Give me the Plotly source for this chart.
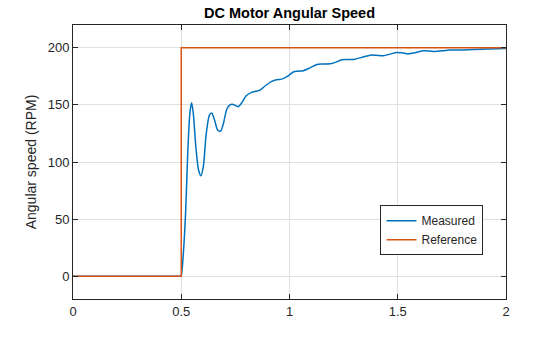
import plotly.graph_objects as go

# Data
ref_t = [0, 0.5, 0.5, 2.0]
ref_y = [0, 0, 200, 200]

meas_t = [0, 0.5, 0.505, 0.52, 0.53, 0.54, 0.548, 0.556, 0.568, 0.58, 0.591, 0.602,
          0.615, 0.63, 0.641, 0.655, 0.668, 0.682, 0.695, 0.71, 0.725, 0.736, 0.75,
          0.764, 0.78, 0.8, 0.825, 0.845, 0.864, 0.89, 0.918, 0.94, 0.964, 0.99,
          1.018, 1.04, 1.064, 1.095, 1.126, 1.155, 1.187, 1.215, 1.241, 1.27,
          1.303, 1.34, 1.372, 1.40, 1.433, 1.465, 1.495, 1.52, 1.549, 1.585,
          1.618, 1.645, 1.672, 1.705, 1.741, 1.80, 1.849, 1.92, 2.0]
meas_y = [0, 0, 8, 55, 108, 143, 152, 142, 112, 93, 88, 96,
          124, 141, 143, 136, 128, 127, 134, 146, 150, 150.5, 149.5,
          148.5, 152, 158, 161, 162, 163, 167, 170.6, 172, 172.6, 175,
          178.8, 179.5, 180, 182.5, 185.4, 185.8, 186, 187.5, 189.5, 189.8,
          190.1, 192, 193.6, 193.5, 193, 194.5, 195.9, 195.6, 194.8, 196,
          197.4, 197.2, 196.8, 197.4, 198, 198.2, 198.5, 199, 199.4]

x_ticks = [0, 0.5, 1, 1.5, 2]
x_tick_labels = ["0", "0.5", "1", "1.5", "2"]
y_ticks = [0, 50, 100, 150, 200]
y_tick_labels = ["0", "50", "100", "150", "200"]

BLUE = "#0072BD"
ORANGE = "#D95319"
AXC = "#262626"
GRID = "#dfdfdf"
FONT = "Liberation Sans, Arial, sans-serif"

# split: flat part (straight) and response (smooth)
k = meas_t.index(0.5)

fig = go.Figure()
fig.add_trace(go.Scatter(x=meas_t[k:], y=meas_y[k:], mode="lines", name="Measured",
                         legendgroup="m", legendrank=1,
                         line=dict(color=BLUE, width=1.5, shape="spline", smoothing=0.7)))
fig.add_trace(go.Scatter(x=meas_t[:k + 1], y=meas_y[:k + 1], mode="lines", name="Measured",
                         legendgroup="m", showlegend=False,
                         line=dict(color=BLUE, width=1.5)))
fig.add_trace(go.Scatter(x=ref_t, y=ref_y, mode="lines", name="Reference",
                         legendrank=2,
                         line=dict(color=ORANGE, width=1.5)))

axis_common = dict(
    showline=True, linecolor=AXC, linewidth=1, mirror="ticks",
    ticks="inside", ticklen=5, tickwidth=1, tickcolor=AXC,
    showgrid=True, gridcolor=GRID, gridwidth=1, zeroline=False,
    tickfont=dict(family=FONT, size=13, color=AXC),
)

fig.update_layout(
    width=560, height=337,
    margin=dict(l=73, r=54, t=25, b=38),
    paper_bgcolor="white", plot_bgcolor="white",
    title=dict(text="<b>DC Motor Angular Speed</b>", x=(73 + 506) / 2 / 560, xanchor="center",
               y=1 - 13 / 337, yanchor="middle",
               font=dict(family=FONT, size=14.5, color="#000000")),
    xaxis=dict(range=[0, 2], tickvals=x_ticks, ticktext=x_tick_labels, **axis_common),
    yaxis=dict(range=[-20, 220], tickvals=y_ticks, ticktext=y_tick_labels,
               title=dict(text="Angular speed (RPM)", standoff=7,
                          font=dict(family=FONT, size=14, color=AXC)),
               **axis_common),
    legend=dict(x=0.948, xanchor="right", y=0.16, yanchor="bottom",
                bgcolor="white", bordercolor=AXC, borderwidth=1,
                font=dict(family=FONT, size=12, color=AXC),
                tracegroupgap=0, itemwidth=30),
    showlegend=True,
)

fig.write_html("out.html")
